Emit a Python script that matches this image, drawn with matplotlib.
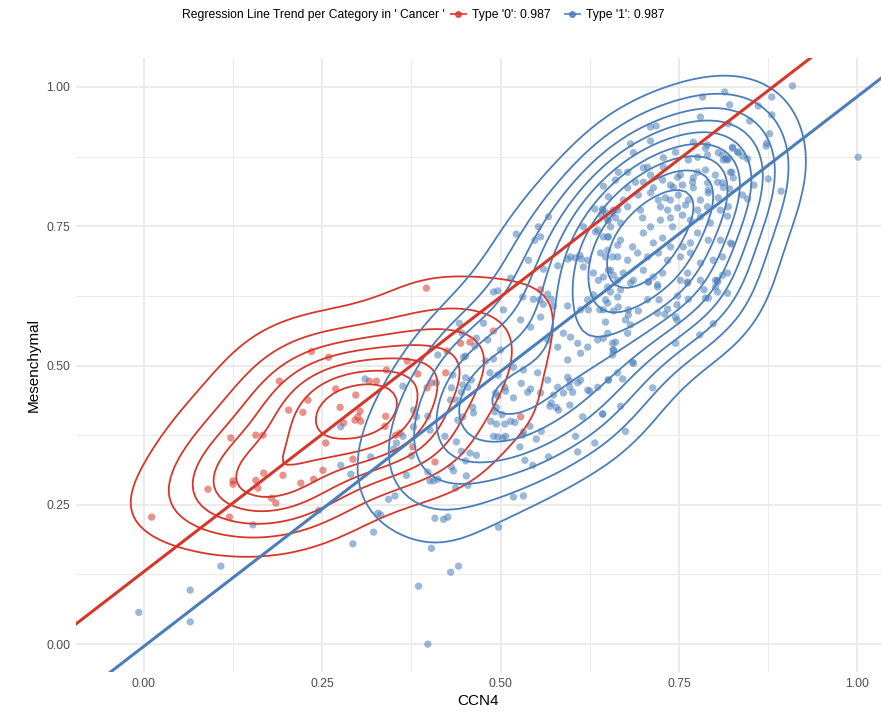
import numpy as np
import matplotlib
matplotlib.use("Agg")
import matplotlib.pyplot as plt
from matplotlib.lines import Line2D

plt.rcParams['font.family'] = ['Liberation Sans', 'DejaVu Sans']

# type '0' points (CCN4, Mesenchymal)
x0 = [0.235, 0.259, 0.190, 0.230, 0.203, 0.223, 0.122, 0.157, 0.167, 0.255,
      0.168, 0.195, 0.251, 0.238, 0.220, 0.125, 0.125, 0.157, 0.160, 0.090,
      0.179, 0.185, 0.120, 0.011, 0.396, 0.425, 0.369, 0.340, 0.384, 0.403,
      0.397, 0.423, 0.316, 0.326, 0.297, 0.269, 0.275, 0.303, 0.296, 0.304,
      0.300, 0.280, 0.339, 0.338, 0.353, 0.359, 0.377, 0.293, 0.408, 0.444,
      0.457, 0.490, 0.556, 0.528]
y0 = [0.525, 0.515, 0.472, 0.438, 0.420, 0.416, 0.370, 0.375, 0.375, 0.361,
      0.307, 0.303, 0.312, 0.296, 0.289, 0.293, 0.287, 0.294, 0.280, 0.278,
      0.262, 0.253, 0.228, 0.228, 0.639, 0.526, 0.508, 0.492, 0.485, 0.469,
      0.460, 0.487, 0.472, 0.472, 0.447, 0.458, 0.425, 0.418, 0.402, 0.400,
      0.408, 0.397, 0.409, 0.391, 0.375, 0.379, 0.354, 0.332, 0.327, 0.540,
      0.542, 0.562, 0.636, 0.408]

# type '1' points
x1 = [-0.007, 0.065, 0.065, 0.108, 0.153, 0.245, 0.293, 0.322, 0.328, 0.332,
      0.343, 0.352, 0.276, 0.310, 0.276, 0.290, 0.318, 0.363, 0.363, 0.354,
      0.350, 0.375, 0.368, 0.378, 0.382, 0.398, 0.378, 0.401, 0.422, 0.438,
      0.410, 0.412, 0.433, 0.431, 0.442, 0.446, 0.466, 0.464, 0.448, 0.451,
      0.479, 0.490, 0.451, 0.459, 0.447, 0.454, 0.430, 0.439, 0.445, 0.461,
      0.462, 0.447, 0.440, 0.445, 0.457, 0.466, 0.451, 0.398, 0.401, 0.412,
      0.406, 0.431, 0.434, 0.452, 0.454, 0.437, 0.408, 0.426, 0.420, 0.403,
      0.441, 0.430, 0.385, 0.398, 0.497, 0.518, 0.532, 0.527, 0.534, 0.545,
      0.567, 0.608, 0.632, 0.550, 0.532, 0.531, 0.557, 0.541, 0.605, 0.486,
      0.494, 0.490, 0.496, 0.492, 0.494, 0.496, 0.493, 0.485, 0.496, 0.503,
      0.507, 0.506, 0.514, 0.520, 0.502, 0.518, 0.506, 0.507, 0.538, 0.529,
      0.542, 0.556, 0.574, 0.588, 0.597, 0.601, 0.597, 0.612, 0.571, 0.569,
      0.578, 0.581, 0.597, 0.615, 0.643, 0.625, 0.651,
      0.567, 0.553, 0.522, 0.548, 0.556, 0.539, 0.560, 0.580, 0.594, 0.598,
      0.605, 0.611, 0.613, 0.616, 0.622, 0.514, 0.496, 0.490, 0.531, 0.546,
      0.555, 0.566, 0.571, 0.560, 0.574, 0.594, 0.612, 0.622, 0.623, 0.630,
      0.639, 0.647, 0.654, 0.664, 0.630, 0.637, 0.644, 0.651, 0.658, 0.664,
      0.640, 0.650, 0.657, 0.664, 0.644, 0.616, 0.633, 0.661, 0.657, 0.476,
      0.504, 0.482, 0.500, 0.528, 0.542, 0.556, 0.566, 0.580, 0.588, 0.598,
      0.608, 0.594, 0.612, 0.622, 0.636, 0.650, 0.658, 0.518, 0.532, 0.552,
      0.566, 0.580, 0.594, 0.608, 0.622, 0.636, 0.664,
      0.632, 0.643, 0.641, 0.648, 0.636, 0.651, 0.654, 0.651, 0.664,
      0.780, 0.710, 0.718, 0.710, 0.682, 0.686, 0.770, 0.787, 0.790,
      0.745, 0.728, 0.763, 0.776, 0.790, 0.805, 0.812, 0.818, 0.825, 0.832,
      0.665, 0.678, 0.700, 0.706, 0.710, 0.728, 0.748, 0.752, 0.770, 0.776,
      0.787, 0.801, 0.822, 0.826,
      0.644, 0.661, 0.678, 0.689, 0.700, 0.714, 0.727, 0.738, 0.742, 0.755,
      0.769, 0.770, 0.790, 0.791, 0.804, 0.812,
      0.651, 0.672, 0.693, 0.710, 0.721, 0.731, 0.738, 0.749, 0.763, 0.780,
      0.791, 0.805,
      0.643, 0.658, 0.678, 0.696, 0.724, 0.734, 0.748, 0.759, 0.776, 0.790,
      0.808, 0.819,
      0.650, 0.668, 0.699, 0.710, 0.724, 0.738, 0.741, 0.755, 0.766, 0.780,
      0.794,
      0.650, 0.668, 0.685, 0.700, 0.714, 0.727, 0.738, 0.756, 0.766, 0.776,
      0.791, 0.808, 0.822,
      0.647, 0.664, 0.678, 0.692, 0.706, 0.721, 0.734, 0.752, 0.766, 0.780,
      0.798, 0.811,
      0.654, 0.672, 0.686, 0.700, 0.714, 0.727, 0.752, 0.762, 0.780, 0.804,
      0.818,
      0.650, 0.668, 0.682, 0.707, 0.720, 0.762, 0.785, 0.801, 0.804, 0.818,
      0.647, 0.644, 0.657, 0.661, 0.658, 0.657, 0.685, 0.686, 0.651, 0.671,
      0.713, 0.643, 0.668, 0.675, 0.678, 0.682, 0.675, 0.679, 0.693, 0.679,
      0.644, 0.658, 0.665, 0.650, 0.706, 0.722, 0.720, 0.730, 0.734, 0.745,
      0.747, 0.745, 0.748, 0.747, 0.763, 0.762, 0.787, 0.791, 0.801, 0.804,
      0.798, 0.779, 0.707, 0.720,
      0.814, 0.909, 0.880, 0.821, 0.861, 0.880, 0.849, 0.819, 0.877, 0.873,
      0.872, 0.825, 0.833, 0.839, 0.846, 0.815, 0.818, 0.811, 1.001, 0.824,
      0.875, 0.855, 0.811, 0.893, 0.821, 0.839, 0.846, 0.818, 0.824, 0.783,
      0.811]
y1 = [0.057, 0.097, 0.040, 0.140, 0.214, 0.240, 0.180, 0.201, 0.235, 0.232,
      0.260, 0.266, 0.390, 0.476, 0.321, 0.305, 0.336, 0.463, 0.373, 0.361,
      0.350, 0.338, 0.303, 0.420, 0.408, 0.409, 0.390, 0.384, 0.373, 0.363,
      0.469, 0.519, 0.483, 0.460, 0.576, 0.558, 0.549, 0.535, 0.515, 0.517,
      0.508, 0.512, 0.478, 0.474, 0.465, 0.461, 0.438, 0.438, 0.452, 0.425,
      0.415, 0.408, 0.402, 0.346, 0.343, 0.339, 0.329, 0.309, 0.293, 0.296,
      0.293, 0.318, 0.311, 0.302, 0.285, 0.280, 0.226, 0.228, 0.224, 0.172,
      0.140, 0.129, 0.104, 0.000, 0.210, 0.264, 0.266, 0.354, 0.330, 0.321,
      0.336, 0.345, 0.361, 0.368, 0.381, 0.375, 0.382, 0.391, 0.373, 0.400,
      0.395, 0.373, 0.372, 0.417, 0.425, 0.445, 0.451, 0.487, 0.483, 0.370,
      0.373, 0.395, 0.400, 0.398, 0.412, 0.442, 0.461, 0.454, 0.452, 0.468,
      0.458, 0.451, 0.447, 0.451, 0.461, 0.452, 0.472, 0.474, 0.433, 0.427,
      0.425, 0.420, 0.429, 0.408, 0.413, 0.454, 0.474,
      0.767, 0.749, 0.736, 0.725, 0.731, 0.689, 0.673, 0.679, 0.691, 0.695,
      0.693, 0.698, 0.691, 0.677, 0.689, 0.657, 0.634, 0.632, 0.623, 0.619,
      0.618, 0.628, 0.619, 0.610, 0.607, 0.607, 0.600, 0.618, 0.600, 0.627,
      0.600, 0.618, 0.632, 0.623, 0.666, 0.653, 0.659, 0.671, 0.662, 0.653,
      0.702, 0.707, 0.695, 0.716, 0.731, 0.749, 0.740, 0.765, 0.774, 0.576,
      0.600, 0.546, 0.528, 0.582, 0.569, 0.587, 0.546, 0.533, 0.558, 0.551,
      0.540, 0.510, 0.522, 0.533, 0.546, 0.558, 0.528, 0.497, 0.492, 0.487,
      0.474, 0.461, 0.479, 0.469, 0.456, 0.461, 0.487,
      0.781, 0.781, 0.770, 0.774, 0.743, 0.761, 0.749, 0.731, 0.779,
      0.946, 0.928, 0.930, 0.903, 0.898, 0.882, 0.901, 0.890, 0.896,
      0.883, 0.873, 0.869, 0.874, 0.878, 0.882, 0.869, 0.871, 0.892, 0.883,
      0.847, 0.847, 0.855, 0.856, 0.842, 0.856, 0.838, 0.842, 0.837, 0.847,
      0.851, 0.842, 0.847, 0.837,
      0.822, 0.833, 0.819, 0.829, 0.829, 0.819, 0.833, 0.824, 0.820, 0.824,
      0.829, 0.819, 0.828, 0.815, 0.829, 0.820,
      0.803, 0.797, 0.806, 0.810, 0.797, 0.801, 0.797, 0.806, 0.797, 0.797,
      0.810, 0.801,
      0.779, 0.779, 0.785, 0.779, 0.785, 0.779, 0.783, 0.788, 0.779, 0.785,
      0.779, 0.785,
      0.761, 0.756, 0.765, 0.749, 0.761, 0.765, 0.749, 0.770, 0.761, 0.767,
      0.756,
      0.731, 0.725, 0.713, 0.738, 0.720, 0.729, 0.713, 0.713, 0.720, 0.738,
      0.725, 0.725, 0.720,
      0.695, 0.695, 0.689, 0.702, 0.695, 0.702, 0.689, 0.695, 0.702, 0.684,
      0.689, 0.695,
      0.671, 0.666, 0.653, 0.671, 0.659, 0.666, 0.653, 0.666, 0.653, 0.653,
      0.666,
      0.641, 0.636, 0.648, 0.650, 0.641, 0.650, 0.636, 0.653, 0.632, 0.630,
      0.578, 0.549, 0.540, 0.542, 0.528, 0.519, 0.506, 0.504, 0.474, 0.476,
      0.460, 0.413, 0.427, 0.382, 0.558, 0.573, 0.582, 0.591, 0.598, 0.600,
      0.600, 0.598, 0.605, 0.612, 0.618, 0.618, 0.594, 0.592, 0.601, 0.587,
      0.582, 0.540, 0.625, 0.609, 0.619, 0.648, 0.621, 0.621, 0.641, 0.650,
      0.575, 0.555, 0.650, 0.645,
      0.991, 1.002, 0.982, 0.968, 0.966, 0.950, 0.939, 0.934, 0.916, 0.899,
      0.894, 0.890, 0.883, 0.876, 0.871, 0.871, 0.869, 0.878, 0.874, 0.847,
      0.835, 0.824, 0.828, 0.813, 0.817, 0.806, 0.799, 0.768, 0.718, 0.982,
      0.662]

labels = ["Type '0': 0.987", "Type '1': 0.987"]
slopes = [0.987, 0.987]
intercepts = [0.130, -0.004]
colors = ['#D7372B', '#4A7EBB']
n_levels = [7, 9]
level_span = [(0.10, 0.88), (0.16, 0.92)]

kde_xlim = (-0.043, 1.03)
kde_ylim = (0.0, 1.05)
bw_adjust = 1.3


def bw_nrd(v):
    v = np.asarray(v)
    q1, q3 = np.percentile(v, [25, 75])
    return 1.06 * min(np.std(v, ddof=1), (q3 - q1) / 1.34) * len(v) ** -0.2


def kde2d(x, y, n=120):
    x, y = np.asarray(x), np.asarray(y)
    gx = np.linspace(*kde_xlim, n)
    gy = np.linspace(*kde_ylim, n)
    hx, hy = bw_adjust * bw_nrd(x), bw_adjust * bw_nrd(y)
    kx = np.exp(-0.5 * ((gx[:, None] - x[None, :]) / hx) ** 2) / (hx * np.sqrt(2 * np.pi))
    ky = np.exp(-0.5 * ((gy[:, None] - y[None, :]) / hy) ** 2) / (hy * np.sqrt(2 * np.pi))
    z = ky @ kx.T / len(x)
    return gx, gy, z


fig = plt.figure(figsize=(8.81, 7.17), dpi=100)
ax = fig.add_axes([76 / 881, 45 / 717, 805 / 881, 614 / 717])

groups = [(x0, y0), (x1, y1)]
for (gx, gy), c in zip(groups, colors):
    ax.scatter(gx, gy, s=28, color=c, alpha=0.55, edgecolors='none', zorder=2)

for (px, py), c, k, (lo, hi) in zip(groups, colors, n_levels, level_span):
    gx, gy, z = kde2d(px, py)
    lv = np.linspace(lo, hi, k) * z.max()
    ax.contour(gx, gy, z, levels=lv, colors=c, linewidths=1.3, zorder=3)

for b, a, c in zip(slopes, intercepts, colors):
    ax.axline((0, a), slope=b, color=c, linewidth=2.2, zorder=4)

ax.set_xticks([0, 0.25, 0.5, 0.75, 1.0])
ax.set_yticks([0, 0.25, 0.5, 0.75, 1.0])
ax.set_xticklabels(['0.00', '0.25', '0.50', '0.75', '1.00'])
ax.set_yticklabels(['0.00', '0.25', '0.50', '0.75', '1.00'])
ax.set_xticks([0.125, 0.375, 0.625, 0.875], minor=True)
ax.set_yticks([0.125, 0.375, 0.625, 0.875], minor=True)
ax.set_xlim(-0.095, 1.033)
ax.set_ylim(-0.05, 1.052)
ax.grid(which='major', color='#EBEBEB', linewidth=1.4, zorder=0)
ax.grid(which='minor', color='#EBEBEB', linewidth=0.7, zorder=0)
ax.set_axisbelow(True)
ax.tick_params(which='both', length=0, labelsize=8.8, labelcolor='#4D4D4D', pad=4)
for s in ax.spines.values():
    s.set_visible(False)
ax.set_xlabel('CCN4', fontsize=11, labelpad=3)
ax.set_ylabel('Mesenchymal', fontsize=11, labelpad=4)

fig.text(182 / 881, 1 - 15 / 717, "Regression Line Trend per Category in ' Cancer '",
         fontsize=8.7, ha='left', va='center')
handles = [Line2D([], [], color=c, marker='o', markersize=4, linewidth=1.5, alpha=0.8)
           for c in colors]
fig.legend(handles, labels, loc='center left', bbox_to_anchor=(451 / 881, 1 - 15 / 717),
           ncol=2, frameon=False, fontsize=8.8, handlelength=1.2, handletextpad=0.5,
           columnspacing=1.2, borderpad=0, borderaxespad=0)

fig.savefig('out.png', dpi=100)
